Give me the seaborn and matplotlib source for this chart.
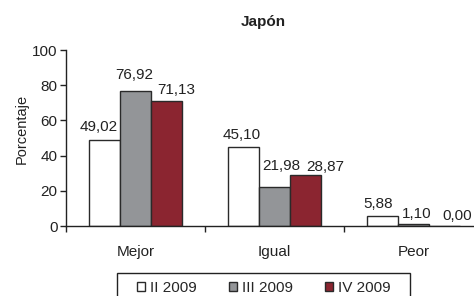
import pandas as pd
import matplotlib
matplotlib.use('Agg')
import matplotlib.pyplot as plt
import seaborn as sns
from matplotlib.patches import Patch, Rectangle

# Data
categories = ['Mejor', 'Igual', 'Peor']
periods = ['II 2009', 'III 2009', 'IV 2009']
values_ii = [49.02, 45.10, 5.88]
values_iii = [76.92, 21.98, 1.10]
values_iv = [71.13, 28.87, 0.00]
colors = ['#ffffff', '#939598', '#8b2530']

# small label shifts (pixels) so labels sit like in the original
nudge_x = [[-6, -2, -4], [-1, 7, 3], [10, 20, 13]]
nudge_y = [[2, 0, 0], [4, 10, -1], [0, -3, -1]]

df = pd.DataFrame({
    'Categoria': categories * 3,
    'Periodo': [periods[0]] * 3 + [periods[1]] * 3 + [periods[2]] * 3,
    'Porcentaje': values_ii + values_iii + values_iv,
})

sns.set_style('white')
plt.rcParams['font.family'] = ['Liberation Sans', 'DejaVu Sans']

fig = plt.figure(figsize=(4.74, 2.96), dpi=100)
ax = fig.add_axes([66 / 474, 1 - 226 / 296, 417 / 474, 176 / 296])

sns.barplot(data=df, x='Categoria', y='Porcentaje', hue='Periodo',
            hue_order=periods, palette=colors, width=0.67,
            edgecolor='#2a2a2a', linewidth=1.0, saturation=1,
            legend=False, ax=ax)

# Value labels with comma decimals
for i, container in enumerate(ax.containers):
    for j, bar in enumerate(container):
        v = bar.get_height()
        ax.annotate(f'{v:.2f}'.replace('.', ','),
                    (bar.get_x() + bar.get_width() / 2, v),
                    xytext=(nudge_x[i][j] * 0.72, 3 + nudge_y[i][j] * 0.72),
                    textcoords='offset points', ha='center', va='bottom',
                    fontsize=11, color='#222222', annotation_clip=False)

ax.set_ylim(0, 100)
ax.set_yticks(range(0, 101, 20))
ax.set_xlim(-0.5, 2.5)
ax.set_xlabel('')
ax.set_ylabel('')
ax.tick_params(axis='y', labelsize=11, length=4, width=1, direction='out', colors='#222222', pad=2, left=True)
ax.tick_params(axis='x', which='major', length=0, labelsize=11, pad=14, colors='#222222')
ax.set_xticks([-0.5, 0.5, 1.5, 2.5], minor=True)
ax.tick_params(axis='x', which='minor', length=4, width=1, direction='out', bottom=True, color='#222222')

for side in ['top', 'right']:
    ax.spines[side].set_visible(False)
for side in ['left', 'bottom']:
    ax.spines[side].set_color('#222222')
    ax.spines[side].set_linewidth(1)

fig.text(263 / 474, 1 - 22 / 296, 'Japón', ha='center', va='center',
         fontsize=11, fontweight='bold', color='#222222')
fig.text(22 / 474, 1 - 129 / 296, 'Porcentaje', ha='center', va='center',
         rotation=90, fontsize=10.5, color='#222222')

# legend with a manual frame
fig.patches.append(Rectangle((117 / 474, -0.05), 293 / 474, 0.05 + 23 / 296,
                             transform=fig.transFigure, fill=False,
                             edgecolor='#222222', linewidth=1))
handles = [Patch(facecolor=c, edgecolor='#2a2a2a', linewidth=1) for c in colors]
fig.legend(handles, periods, loc='center left', bbox_to_anchor=(137 / 474, 1 - 288 / 296),
           ncol=3, frameon=False, fontsize=11, handlelength=0.55, handleheight=0.55,
           handletextpad=0.3, columnspacing=2.1, borderpad=0, borderaxespad=0)

fig.savefig('out.png', dpi=100)
